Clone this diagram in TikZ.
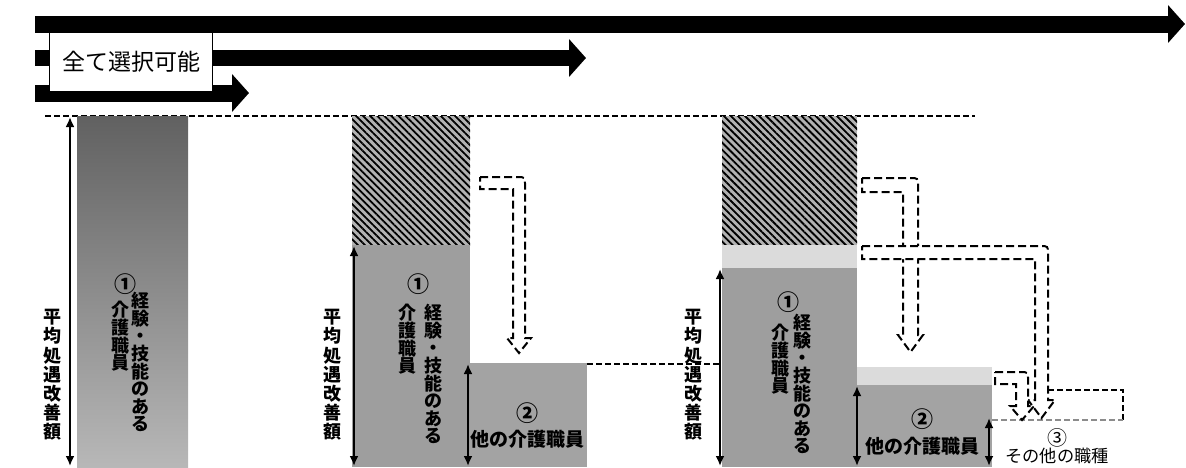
\documentclass[tikz,border=0pt]{standalone}
\usepackage{fontspec}
\setmainfont{Noto Sans CJK JP}
\usetikzlibrary{arrows.meta,patterns.meta}

% hollow dashed arrow: x0, top, bottom, inner x, outer x, head y, head ext, tip y
\newcommand{\hollowarrow}[8]{%
\draw[hollow] (#1,#2) -- (#5-8,#2) .. controls (#5,#2) .. (#5,#2+8) -- (#5,#6) -- (#5+#7,#6)
  -- ({(#4+#5)/2},#8) -- (#4-#7,#6) -- (#4,#6) -- (#4,#3) -- (#1,#3) -- cycle;}

\begin{document}
\begin{tikzpicture}[x=0.5pt,y=-0.5pt,
  band/.style={line width=8.5pt,-{Triangle[length=8.5pt,width=18.5pt]}},
  guide/.style={line width=0.6pt,dash pattern=on 3pt off 1.5pt},
  amount/.style={{Latex[length=5pt,width=4.5pt]}-{Latex[length=5pt,width=4.5pt]},line width=1pt},
  hollow/.style={draw,fill=white,line width=1pt,dash pattern=on 4pt off 2pt},
  hatch/.style={fill=black!30,postaction={pattern={Lines[angle=-45,distance=2.5pt,line width=0.9pt]}}},
  vtext/.style={align=center,inner sep=0pt,anchor=north,font=\fontsize{9}{8.8}\selectfont\bfseries},
  lbl/.style={inner sep=0pt,font=\fontsize{9.5}{9.5}\selectfont\bfseries},
  num/.style={inner sep=0pt,font=\fontsize{11}{11}\selectfont\bfseries}]
\useasboundingbox (0,0) rectangle (1186,467);

% top arrows
\draw[band] (35,24) -- (1185,24);
\draw[band,line width=8pt] (35,58) -- (586,58);
\draw[band] (35,93) -- (249,93);
\node[draw,fill=white,line width=0.8pt,minimum width=81.5pt,minimum height=29.5pt,
  font=\fontsize{11.5}{11.5}\selectfont] (all) at (131,62) {全て選択可能};
\draw[guide] (45,116) -- (975,116);

% columns
\shade[top color=black!62,bottom color=black!28] (77,116) rectangle (188,467);
\path[hatch] (352,116) rectangle (470,245);
\fill[black!38] (352,245) rectangle (470,467);
\fill[black!36] (470,363) rectangle (587,467);
\draw[guide] (587,364) -- (722,364);
\path[hatch] (722,116) rectangle (857,245);
\fill[black!14] (722,245) rectangle (857,268);
\fill[black!38] (722,268) rectangle (857,467);
\fill[black!14] (857,367) rectangle (992,385);
\fill[black!36] (857,385) rectangle (992,467);
\draw[guide] (1048,390) -- (1123,390) -- (1123,420);
\draw[guide,black!45] (992,420) -- (1123,420);

% amounts
\coordinate (t1) at (70,117); \coordinate (b1) at (70,466);
\coordinate (t2) at (354,246); \coordinate (b2) at (354,466);
\coordinate (t3) at (468,364); \coordinate (b3) at (468,466);
\coordinate (t4) at (720,269); \coordinate (b4) at (720,466);
\coordinate (t5) at (857,386); \coordinate (b5) at (857,466);
\coordinate (t6) at (989,418); \coordinate (b6) at (989,466);
\draw[amount] (t1) -- (b1); \draw[amount] (t2) -- (b2); \draw[amount] (t3) -- (b3);
\draw[amount] (t4) -- (b4); \draw[amount] (t5) -- (b5); \draw[amount] (t6) -- (b6);

% moves
\hollowarrow{480}{177}{189}{513}{525}{338}{6}{353}
\hollowarrow{862}{178}{192}{903}{918}{335}{5}{352}
\hollowarrow{862}{246}{259}{1035}{1048}{400}{7}{418}
\hollowarrow{995}{372}{384}{1016}{1028}{406}{6}{420}

% labels
\node[vtext,font=\fontsize{9}{9.6}\selectfont\bfseries] (avg1) at (52,309) {平\\均\\処\\遇\\改\\善\\額};
\node[vtext,font=\fontsize{9}{9.6}\selectfont\bfseries] (avg2) at (332,309) {平\\均\\処\\遇\\改\\善\\額};
\node[vtext,font=\fontsize{9}{9.6}\selectfont\bfseries] (avg3) at (693,309) {平\\均\\処\\遇\\改\\善\\額};
\node[num] (no1a) at (125,284) {①};
\node[vtext] (job1a) at (120,301) {介\\護\\職\\員};
\node[vtext] (job1b) at (140,292) {経\\験\\・\\技\\能\\の\\あ\\る};
\node[num] (no1b) at (418,284) {①};
\node[vtext] (job2a) at (407,304) {介\\護\\職\\員};
\node[vtext] (job2b) at (433,304) {経\\験\\・\\技\\能\\の\\あ\\る};
\node[num] (no1c) at (788,302) {①};
\node[vtext] (job3a) at (780,324) {介\\護\\職\\員};
\node[vtext] (job3b) at (802,314) {経\\験\\・\\技\\能\\の\\あ\\る};
\node[num] (no2a) at (527,413) {②};
\node[lbl] (oth2a) at (527,439) {他の介護職員};
\node[num] (no2b) at (922,419) {②};
\node[lbl] (oth2b) at (922,446) {他の介護職員};
\node[num,font=\fontsize{10}{10}\selectfont] (no3) at (1057,438) {③};
\node[lbl,font=\fontsize{8.6}{8.6}\selectfont] (oth3) at (1057,456) {その他の職種};
\end{tikzpicture}
\end{document}
